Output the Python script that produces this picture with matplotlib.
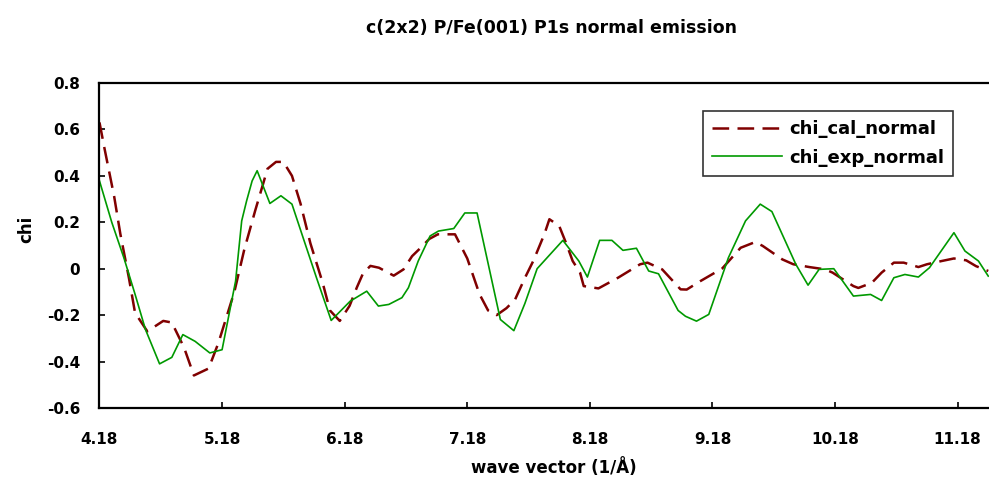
import matplotlib
matplotlib.use("Agg")
from matplotlib import pyplot as plt
from matplotlib.ticker import FixedLocator

plt.rcParams['font.family'] = ['DejaVu Sans']
plt.rcParams['lines.scale_dashes'] = False

# calculated curve (vertices)
k_cal = [4.18, 4.22, 4.30, 4.35, 4.42, 4.47, 4.57, 4.70, 4.77, 4.83, 4.87, 4.95,
         5.07, 5.15, 5.28, 5.36, 5.45, 5.52, 5.55, 5.62, 5.68, 5.75, 5.82, 5.90,
         6.00, 6.06, 6.14, 6.22, 6.28, 6.33, 6.39, 6.46, 6.58, 6.66, 6.73, 6.80,
         6.87, 6.94, 7.08, 7.18, 7.28, 7.35, 7.42, 7.50, 7.57, 7.65, 7.72, 7.81,
         7.85, 7.93, 7.99, 8.04, 8.10, 8.13, 8.25, 8.41, 8.59, 8.65, 8.77, 8.92,
         8.97, 9.08, 9.26, 9.41, 9.53, 9.59, 9.75, 9.84, 9.97, 10.10, 10.16, 10.33,
         10.37, 10.48, 10.56, 10.66, 10.74, 10.86, 10.93, 11.05, 11.15, 11.25,
         11.33, 11.43]
chi_cal = [0.63, 0.52, 0.31, 0.15, -0.04, -0.19, -0.27, -0.225, -0.232, -0.297,
           -0.34, -0.46, -0.43, -0.32, -0.10, 0.08, 0.25, 0.375, 0.43, 0.46, 0.46,
           0.40, 0.28, 0.11, -0.06, -0.18, -0.225, -0.16, -0.08, -0.02, 0.012,
           0.004, -0.03, -0.003, 0.054, 0.09, 0.128, 0.148, 0.148, 0.044, -0.11,
           -0.18, -0.20, -0.17, -0.133, -0.04, 0.035, 0.15, 0.213, 0.184, 0.105,
           0.033, -0.017, -0.075, -0.085, -0.039, 0.019, 0.026, -0.003, -0.089,
           -0.09, -0.054, 0.001, 0.09, 0.115, 0.098, 0.04, 0.019, 0.007, -0.003,
           -0.017, -0.075, -0.083, -0.061, -0.017, 0.026, 0.026, 0.007, 0.019,
           0.033, 0.044, 0.036, 0.011, -0.01]

# experimental curve
k_exp = [4.18, 4.28, 4.38, 4.47, 4.555, 4.67, 4.77, 4.86, 4.96, 5.08, 5.18, 5.29,
         5.34, 5.38, 5.425, 5.466, 5.57, 5.66, 5.75, 5.85, 5.95, 6.07, 6.225, 6.36,
         6.455, 6.54, 6.647, 6.70, 6.78, 6.877, 6.945, 7.07, 7.16, 7.26, 7.45, 7.56,
         7.65, 7.75, 7.96, 8.09, 8.16, 8.26, 8.36, 8.45, 8.56, 8.66, 8.74, 8.90,
         8.96, 9.05, 9.15, 9.31, 9.45, 9.57, 9.665, 9.86, 9.96, 10.05, 10.17, 10.33,
         10.47, 10.56, 10.66, 10.75, 10.86, 10.95, 11.15, 11.24, 11.35, 11.43]
chi_exp = [0.378, 0.20, 0.045, -0.11, -0.262, -0.41, -0.382, -0.284, -0.313, -0.363,
           -0.349, -0.054, 0.206, 0.292, 0.378, 0.422, 0.281, 0.314, 0.278, 0.119,
           -0.039, -0.223, -0.14, -0.097, -0.161, -0.154, -0.125, -0.082, 0.033,
           0.141, 0.162, 0.173, 0.24, 0.24, -0.219, -0.267, -0.15, 0.0, 0.122, 0.033,
           -0.036, 0.122, 0.122, 0.079, 0.088, -0.01, -0.022, -0.18, -0.205, -0.226,
           -0.197, 0.047, 0.206, 0.278, 0.246, 0.019, -0.071, -0.003, 0.0, -0.118,
           -0.111, -0.137, -0.039, -0.025, -0.036, 0.004, 0.155, 0.076, 0.033, -0.032]

x_ticks = [4.18, 5.18, 6.18, 7.18, 8.18, 9.18, 10.18, 11.18]
x_labels = ["4.18", "5.18", "6.18", "7.18", "8.18", "9.18", "10.18", "11.18"]
y_ticks = [-0.6, -0.4, -0.2, 0.0, 0.2, 0.4, 0.6, 0.8]
y_labels = ["-0.6", "-0.4", "-0.2", "0", "0.2", "0.4", "0.6", "0.8"]

fig = plt.figure(figsize=(9.89, 4.88), dpi=100)
ax = fig.add_axes([0.1006, 0.164, 0.8994, 0.666])

ax.plot(k_cal, chi_cal, color='#800000', linewidth=1.8, dashes=(12, 6),
        label='chi_cal_normal')
ax.plot(k_exp, chi_exp, color='#009900', linewidth=1.2, label='chi_exp_normal')

ax.set_xlim(4.18, 11.436)
ax.set_ylim(-0.6, 0.8)
ax.xaxis.set_major_locator(FixedLocator(x_ticks))
ax.set_xticklabels(x_labels)
ax.yaxis.set_major_locator(FixedLocator(y_ticks))
ax.set_yticklabels(y_labels)
ax.tick_params(direction='in', length=4, width=1.2, labelsize=11)
ax.tick_params(axis='x', pad=17)
ax.tick_params(axis='y', pad=14)
for lab in ax.get_xticklabels() + ax.get_yticklabels():
    lab.set_fontweight('bold')

ax.spines['right'].set_visible(False)
for s in ['left', 'bottom', 'top']:
    ax.spines[s].set_linewidth(1.6)
    ax.spines[s].set_color('black')

ax.set_xlabel('wave vector (1/Å)', fontsize=12, fontweight='bold')
ax.xaxis.set_label_coords(0.511, -0.155)
ax.set_ylabel('chi', fontsize=12, fontweight='bold')
ax.yaxis.set_label_coords(-0.072, 0.55)

fig.text(552 / 989, 1 - 28 / 488, 'c(2x2) P/Fe(001) P1s normal emission',
         ha='center', va='center', fontsize=12.5, fontweight='bold')

leg = ax.legend(loc='upper left', bbox_to_anchor=(0.678, 0.914), frameon=True,
                fancybox=False, shadow=False, handlelength=3.9, handletextpad=0.4,
                borderpad=0.5, labelspacing=0.6, borderaxespad=0,
                prop={'weight': 'bold', 'size': 13})
leg.get_frame().set_edgecolor('black')
leg.get_frame().set_linewidth(1.2)

fig.savefig('out.png', dpi=100)
